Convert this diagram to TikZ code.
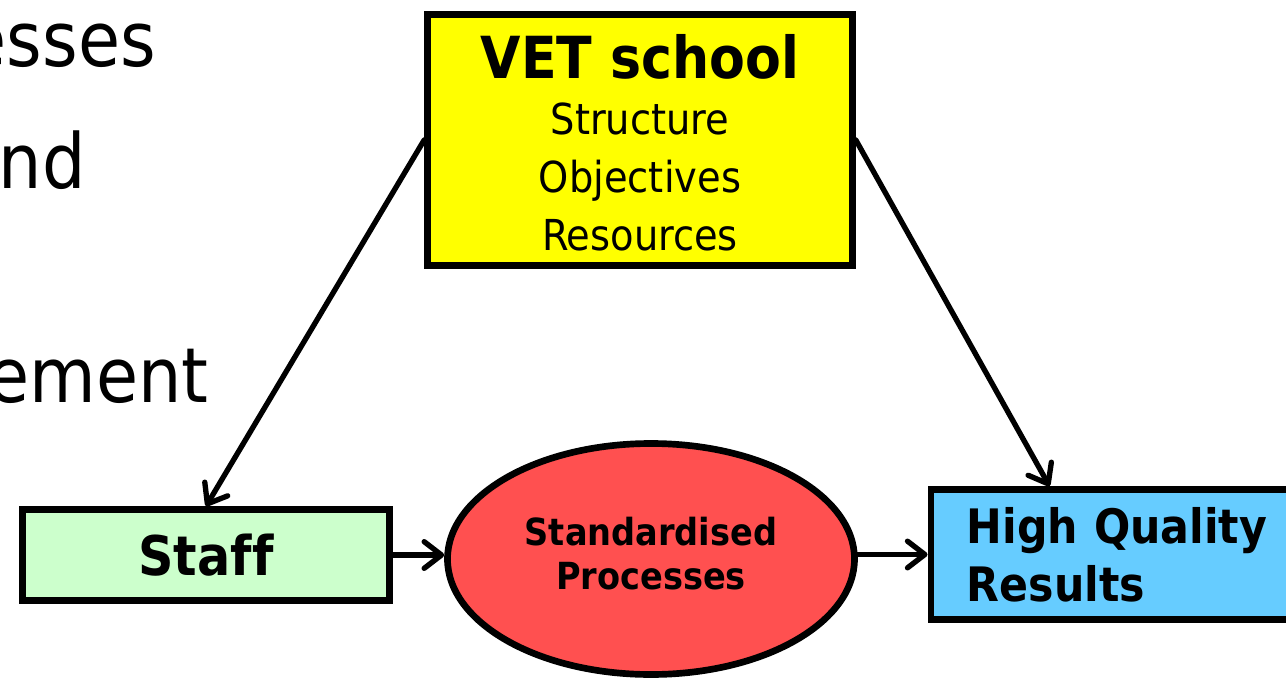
\documentclass[tikz,border=0pt]{standalone}
\usepackage{fontspec}
\setmainfont[Ligatures=NoCommon]{DejaVu Sans Condensed}
\usetikzlibrary{arrows.meta,shapes.geometric,calc}
\definecolor{vetyellow}{HTML}{FFFF00}
\definecolor{staffgreen}{HTML}{CCFFCC}
\definecolor{procred}{HTML}{FF5050}
\definecolor{resblue}{HTML}{66CCFF}
\tikzset{
  box/.style={draw=black, line width=5pt, rectangle, inner sep=0pt, align=center},
  conn/.style={line width=4pt, line cap=round, -{Straight Barb[length=13pt,width=20pt,line width=4pt,round]}},
  sidetext/.style={anchor=base east, inner sep=0pt, font=\fontsize{57}{60}\selectfont}
}
\begin{document}
\begin{tikzpicture}[x=0.75pt,y=-0.75pt]
\useasboundingbox (0,0) rectangle (1286,678);
\clip (0,0) rectangle (1286,678);
% cut-off slide text on the left
\node[sidetext] (t1) at (156,66) {esses};
\node[sidetext] (t2) at (86,188) {nd};
\node[sidetext] (t3) at (209,402) {ement};
% VET school
\node[box, fill=vetyellow, minimum width=318.75pt, minimum height=188.25pt,
      font=\fontsize{32}{43.5}\selectfont] (vet) at (640,140)
  {{\fontsize{43.5}{46}\selectfont\bfseries\rule{0pt}{37.5pt}VET school}\\[-1.5pt]Structure\\Objectives\\Resources};
% Staff
\node[box, fill=staffgreen, minimum width=275.25pt, minimum height=68.25pt,
      font=\fontsize{41}{45}\selectfont\bfseries] (staff) at (206,555) {Staff};
% Standardised processes
\node[ellipse, draw=black, line width=5pt, fill=procred, inner sep=0pt,
      minimum width=305.25pt, minimum height=173.25pt, align=center, text depth=9pt,
      font=\fontsize{28}{33}\selectfont\bfseries] (std) at (651,559) {Standardised\\Processes};
% High quality results
\node[box, fill=resblue, anchor=west, align=left, text width=300pt, inner xsep=27pt,
      minimum height=97.5pt, font=\fontsize{35.6}{43.5}\selectfont\bfseries] (res) at (927.5,554.5)
  {High Quality\\Results};
\coordinate (restop) at ($(res.north west)+(122,0)$);
% connectors
\draw[conn] (vet.west) -- (staff.north);
\draw[conn] (vet.east) -- (restop);
\draw[conn] (staff.east) -- (std.west |- staff.east);
\draw[conn] (std.east |- res.west) -- (res.west);
\end{tikzpicture}
\end{document}
